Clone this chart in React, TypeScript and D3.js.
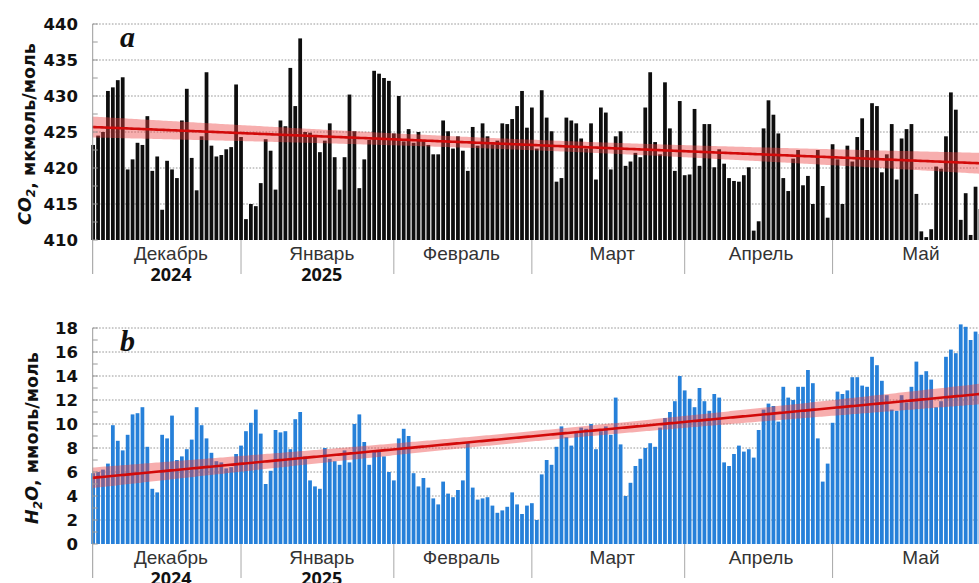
import React from 'react';
import * as d3 from 'd3';

// ---------- DATA (daily means, 2 Dec 2024 – 31 May 2025) ----------
const co2Dec = [423.2, 424.5, 425.0, 430.7, 431.2, 432.2, 432.6, 419.8, 421.2, 423.5, 423.2, 427.2, 419.6, 421.6, 414.2, 421.0, 419.8, 418.6, 426.6, 431.0, 421.4, 416.9, 424.4, 433.3, 423.1, 421.6, 421.8, 422.6, 422.9, 431.6];
const co2Jan = [424.3, 412.9, 415.0, 414.7, 417.9, 424.0, 422.4, 417.0, 426.6, 425.8, 433.9, 428.6, 438.0, 425.0, 424.9, 424.3, 422.2, 423.8, 426.2, 421.5, 417.0, 421.5, 430.2, 425.1, 417.2, 421.2, 423.9, 433.5, 433.1, 432.5, 432.1];
const co2Feb = [424.8, 430.0, 423.7, 425.4, 423.5, 425.0, 423.8, 423.2, 421.9, 421.9, 426.6, 425.1, 422.7, 424.4, 422.4, 419.6, 425.7, 423.1, 426.2, 424.4, 423.3, 423.8, 426.2, 426.1, 426.8, 428.6, 430.7, 425.6];
const co2Mar = [428.4, 422.7, 430.8, 427.0, 425.1, 418.1, 418.6, 427.0, 426.6, 426.2, 424.1, 422.7, 426.2, 418.4, 428.4, 427.7, 419.8, 424.4, 425.1, 420.3, 420.9, 422.1, 421.5, 428.4, 433.3, 423.6, 421.9, 431.9, 425.5, 419.6, 429.3];
const co2Apr = [419.0, 419.1, 428.2, 420.3, 426.1, 426.1, 420.1, 422.6, 420.6, 418.6, 418.2, 418.1, 419.0, 420.1, 411.3, 412.6, 425.5, 429.4, 427.4, 424.8, 418.6, 416.8, 421.3, 422.5, 417.6, 418.9, 415.0, 422.5, 417.5, 413.1];
const co2May = [423.3, 421.2, 415.0, 423.1, 420.9, 424.3, 426.9, 422.5, 429.0, 428.6, 419.4, 421.9, 426.1, 418.4, 424.1, 425.4, 426.1, 416.4, 411.2, 410.4, 411.5, 420.2, 419.9, 424.4, 430.5, 428.1, 412.8, 416.5, 410.7, 417.4, 414.3];

const h2oDec = [5.9, 6.0, 6.2, 6.7, 9.9, 8.6, 7.8, 9.1, 10.8, 10.9, 11.4, 8.1, 4.6, 4.3, 9.1, 8.8, 10.7, 7.0, 7.3, 7.9, 8.7, 11.4, 9.9, 8.8, 7.6, 6.9, 6.8, 6.3, 6.4, 7.5];
const h2oJan = [8.2, 9.4, 10.1, 11.2, 9.2, 5.0, 6.1, 9.5, 9.3, 9.4, 7.9, 10.4, 11.0, 7.3, 5.3, 4.8, 4.6, 8.0, 7.1, 6.9, 6.6, 7.8, 6.8, 10.0, 10.8, 8.5, 6.6, 7.7, 7.7, 7.3, 6.0];
const h2oFeb = [5.3, 8.8, 9.6, 9.0, 5.9, 4.8, 5.5, 4.7, 3.8, 3.3, 5.2, 4.2, 3.9, 4.5, 5.3, 8.5, 4.7, 3.7, 3.8, 3.9, 3.2, 2.6, 2.8, 3.1, 4.3, 3.3, 2.5, 3.2];
const h2oMar = [3.4, 2.0, 5.8, 7.0, 6.6, 8.1, 9.8, 8.9, 8.2, 9.3, 9.7, 9.6, 10.0, 7.9, 9.4, 9.8, 9.1, 12.2, 8.3, 4.0, 5.1, 6.5, 7.1, 8.0, 8.4, 8.1, 9.7, 10.5, 11.0, 11.9, 14.0];
const h2oApr = [12.8, 12.1, 11.4, 13.0, 11.9, 11.1, 12.5, 12.2, 6.8, 6.5, 7.5, 8.2, 7.7, 7.9, 7.2, 9.5, 11.2, 11.7, 11.5, 10.2, 13.1, 12.2, 12.0, 13.1, 13.1, 14.5, 13.4, 8.8, 5.2, 6.7];
const h2oMay = [10.1, 12.7, 12.5, 12.8, 13.9, 13.9, 13.2, 13.1, 15.6, 14.9, 13.6, 12.4, 11.2, 11.1, 12.4, 11.8, 13.1, 15.2, 14.1, 14.4, 13.7, 11.4, 11.9, 15.6, 16.2, 15.9, 18.3, 18.1, 17.0, 17.7, 17.5];

const firstDate = '2024-12-02';
const domainDates = ['2024-12-01', '2025-06-01'];
const monthStarts = ['2025-01-01', '2025-02-01', '2025-03-01', '2025-04-01', '2025-05-01'];
const monthLabels = ['Декабрь', 'Январь', 'Февраль', 'Март', 'Апрель', 'Май'];
const yearLabels = ['2024', '2025', '', '', '', ''];
const monthLabelDates = ['2024-12-17T19:00Z', '2025-01-17T09:00Z', '2025-02-14T17:00Z', '2025-03-17T07:00Z', '2025-04-16T12:00Z', '2025-05-18T22:00Z'];
const co2Ticks = [410, 415, 420, 425, 430, 435, 440];
const co2MinorTicks = [412.5, 417.5, 422.5, 427.5, 432.5, 437.5];
const h2oTicks = [0, 2, 4, 6, 8, 10, 12, 14, 16, 18];
const h2oMinorTicks = [1, 3, 5, 7, 9, 11, 13, 15, 17];

const co2Values = [...co2Dec, ...co2Jan, ...co2Feb, ...co2Mar, ...co2Apr, ...co2May];
const h2oValues = [...h2oDec, ...h2oJan, ...h2oFeb, ...h2oMar, ...h2oApr, ...h2oMay];

// ---------- LAYOUT ----------
const W = 979, H = 583;
const AXIS_X = 92.7;
const DAY = 864e5;
const t0 = new Date(firstDate + 'T00:00Z').getTime();
const dates = co2Values.map((_, i) => new Date(t0 + i * DAY));

const x = d3.scaleUtc()
  .domain(domainDates.map(d => new Date(d + 'T00:00Z')))
  .range([88.2, 985.4]);
const barW = (x(new Date(t0 + DAY)) - x(new Date(t0))) * 0.76;

function regression(vals: number[]) {
  const n = vals.length;
  const xs = d3.range(n);
  const xbar = d3.mean(xs) as number;
  const ybar = d3.mean(vals) as number;
  let sxx = 0, sxy = 0;
  xs.forEach((xi, i) => { sxx += (xi - xbar) ** 2; sxy += (xi - xbar) * (vals[i] - ybar); });
  const b = sxy / sxx;
  const a = ybar - b * xbar;
  let sse = 0;
  xs.forEach((xi, i) => { sse += (vals[i] - (a + b * xi)) ** 2; });
  const s = Math.sqrt(sse / (n - 2));
  const tval = 1.97;
  return d3.range(-0.2, n + 0.8, 0.5).map(i => ({
    i,
    fit: a + b * i,
    hw: tval * s * Math.sqrt(1 / n + (i - xbar) ** 2 / sxx),
  }));
}

type PanelProps = {
  values: number[];
  domain: [number, number];
  top: number;
  bottom: number;
  ticks: number[];
  minor: number[];
  color: string;
  letter: string;
  formula: [string, string, string];
  unit: string;
  titleX: number;
  clipId: string;
};

function Panel(p: PanelProps) {
  const y = d3.scaleLinear().domain(p.domain).range([p.bottom, p.top]);
  const reg = regression(p.values);
  const xi = (i: number) => x(new Date(t0 + i * DAY));
  const area = d3.area<any>().x(d => xi(d.i)).y0(d => y(d.fit - d.hw)).y1(d => y(d.fit + d.hw));
  const line = d3.line<any>().x(d => xi(d.i)).y(d => y(d.fit));
  const sepBottom = p.bottom + 34;
  const titleY = (p.top + p.bottom) / 2 + 2;
  return (
    <g>
      <defs>
        <clipPath id={p.clipId}>
          <rect x={AXIS_X - 2} y={p.top - 5} width={W} height={p.bottom - p.top + 5} />
        </clipPath>
      </defs>
      {p.ticks.filter(t => t !== p.domain[0]).map(t => (
        <line key={'g' + t} x1={AXIS_X} x2={W} y1={y(t)} y2={y(t)} stroke="#8a8a8a" strokeWidth={0.9} strokeDasharray="1.6 1.6" />
      ))}
      <g clipPath={`url(#${p.clipId})`}>
        {p.values.map((v, i) => (
          <rect key={i} x={x(dates[i]) - barW / 2} width={barW} y={y(v)} height={p.bottom - y(v)} fill={p.color} />
        ))}
        <path d={area(reg) || ''} fill="rgb(236,62,62)" fillOpacity={0.42} />
        <path d={line(reg) || ''} fill="none" stroke="#d20a0a" strokeWidth={2.6} />
      </g>
      <line x1={AXIS_X} x2={AXIS_X} y1={p.top} y2={sepBottom} stroke="#9a9a9a" strokeWidth={1} />
      {[...p.ticks, ...p.minor].map(t => (
        <line key={'t' + t} x1={AXIS_X} x2={AXIS_X + 5} y1={y(t)} y2={y(t)} stroke="#9a9a9a" strokeWidth={1} />
      ))}
      {p.ticks.map(t => (
        <text key={'l' + t} x={78} y={y(t)} dy="0.36em" textAnchor="end" fontFamily="'DejaVu Sans', Verdana, sans-serif" fontWeight="bold" fontSize={16.5} fill="#111">{t}</text>
      ))}
      {monthStarts.map(m => {
        const xx = x(new Date(m + 'T00:00Z'));
        return <line key={'s' + m} x1={xx} x2={xx} y1={p.bottom} y2={sepBottom} stroke="#a8a8a8" strokeWidth={1} />;
      })}
      {monthLabels.map((m, i) => {
        const cx = x(new Date(monthLabelDates[i]));
        return (
          <g key={'m' + m}>
            <text x={cx} y={p.bottom + 20} textAnchor="middle" fontFamily="'Liberation Sans', Arial, sans-serif" fontSize={19} fill="#333">{m}</text>
            {yearLabels[i] && (
              <text x={cx} y={p.bottom + 41} textAnchor="middle" fontFamily="'Open Sans', sans-serif" fontWeight="bold" fontSize={18} fill="#111">{yearLabels[i]}</text>
            )}
          </g>
        );
      })}
      <text x={120} y={p.top + 23} fontFamily="'Liberation Serif', 'Times New Roman', serif" fontStyle="italic" fontWeight="bold" fontSize={30} fill="#111">{p.letter}</text>
      <text transform={`translate(${p.titleX},${titleY}) rotate(-90)`} textAnchor="middle" fontFamily="'DejaVu Sans', Verdana, sans-serif" fontWeight="bold" fontSize={17.5} fill="#111">
        <tspan fontStyle="italic">{p.formula[0]}</tspan>
        <tspan fontStyle="italic" fontSize={12} dy={4}>{p.formula[1]}</tspan>
        <tspan fontStyle="italic" dy={-4}>{p.formula[2]}</tspan>
        <tspan>{p.unit}</tspan>
      </text>
    </g>
  );
}

export default function App() {
  return (
    <svg width={W} height={H} viewBox={`0 0 ${W} ${H}`} style={{ position: 'absolute', left: 0, top: 0, background: '#fff' }}>
      <rect x={0} y={0} width={W} height={H} fill="#fff" />
      <Panel values={co2Values} domain={[410, 440]} top={24} bottom={240} ticks={co2Ticks} minor={co2MinorTicks}
        color="#0e0e0e" letter="a" formula={['CO', '2', '']} unit=", мкмоль/моль" titleX={31} clipId="clipA" />
      <Panel values={h2oValues} domain={[0, 18]} top={328} bottom={544} ticks={h2oTicks} minor={h2oMinorTicks}
        color="#2680d9" letter="b" formula={['H', '2', 'O']} unit=", ммоль/моль" titleX={38} clipId="clipB" />
    </svg>
  );
}
